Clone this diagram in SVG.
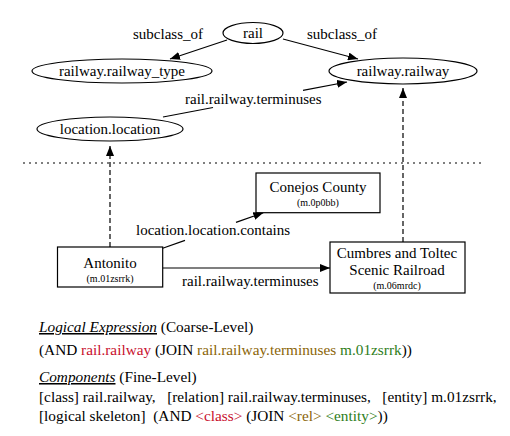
<svg xmlns="http://www.w3.org/2000/svg" width="510" height="436" viewBox="0 0 510 436">
<defs>
<style>
text{font-family:"Liberation Serif","Times New Roman",serif;fill:#000}
.n{font-size:15px;text-anchor:middle}
.s{font-size:10px;text-anchor:middle}
.e{font-size:15px}
.b{font-size:15.3px;white-space:pre}
.shape{fill:#fff;stroke:#000;stroke-width:1.2}
.edge{stroke:#000;stroke-width:1.2;fill:none}
.dash{stroke-dasharray:5,3}
.red{fill:#c8102e}
.olive{fill:#8b6508}
.green{fill:#2e7d20}
.ul{font-style:italic;text-decoration:underline}
</style>
<marker id="ah" markerWidth="10" markerHeight="8" refX="10" refY="4" orient="auto" markerUnits="userSpaceOnUse">
<path d="M0,0 L10,4 L0,8 z" fill="#000"/>
</marker>
</defs>
<rect width="510" height="436" fill="#fff"/>
<g id="connectors">
<line class="edge" x1="227" y1="40" x2="170" y2="59" marker-end="url(#ah)"/>
<line class="edge" x1="283" y1="39" x2="358" y2="59" marker-end="url(#ah)"/>
<line class="edge" x1="163" y1="117" x2="213" y2="107.5"/>
<line class="edge" x1="303" y1="90.4" x2="347" y2="82" marker-end="url(#ah)"/>
<line class="edge dash" x1="110" y1="247" x2="110" y2="146" marker-end="url(#ah)"/>
<line class="edge dash" x1="403" y1="242" x2="403" y2="88" marker-end="url(#ah)"/>
<line class="edge" x1="162.7" y1="248.3" x2="185" y2="240.4"/>
<line class="edge" x1="236" y1="222.4" x2="263.3" y2="212.7" marker-end="url(#ah)"/>
<line class="edge" x1="163" y1="268" x2="330" y2="268" marker-end="url(#ah)"/>
<text class="e" x="133" y="39">subclass_of</text>
<text class="e" x="307" y="39">subclass_of</text>
<text class="e" x="185" y="104">rail.railway.terminuses</text>
<text class="e" x="136" y="235">location.location.contains</text>
<text class="e" x="182" y="286">rail.railway.terminuses</text>
</g>
<line x1="23" y1="163" x2="484" y2="163" stroke="#000" stroke-width="1.2" stroke-dasharray="2,4"/>
<g id="rail">
<ellipse class="shape" cx="253" cy="33" rx="30" ry="10.5"/>
<text class="n" x="253" y="38">rail</text>
</g>
<g id="railway_type">
<ellipse class="shape" cx="122" cy="71" rx="90" ry="12"/>
<text class="n" x="122" y="76">railway.railway_type</text>
</g>
<g id="railway_railway">
<ellipse class="shape" cx="403" cy="71" rx="74" ry="13"/>
<text class="n" x="403" y="76">railway.railway</text>
</g>
<g id="location_location">
<ellipse class="shape" cx="110" cy="129" rx="73" ry="12"/>
<text class="n" x="110" y="134">location.location</text>
</g>
<g id="conejos">
<rect class="shape" x="256" y="173" width="124" height="39.7"/>
<text class="n" x="318" y="192">Conejos County</text>
<text class="s" x="318" y="206">(m.0p0bb)</text>
</g>
<g id="antonito">
<rect class="shape" x="57.5" y="247" width="105.2" height="40"/>
<text class="n" x="110" y="268">Antonito</text>
<text class="s" x="110" y="282">(m.01zsrrk)</text>
</g>
<g id="cumbres">
<rect class="shape" x="330" y="242" width="135" height="51"/>
<text class="n" x="397" y="258">Cumbres and Toltec</text>
<text class="n" x="397" y="275">Scenic Railroad</text>
<text class="s" x="397" y="289">(m.06mrdc)</text>
</g>
<g id="text">
<text class="b" x="39" y="332" xml:space="preserve"><tspan class="ul">Logical Expression</tspan> (Coarse-Level)</text>
<text class="b" x="39" y="355" xml:space="preserve">(AND <tspan class="red">rail.railway</tspan> (JOIN <tspan class="olive">rail.railway.terminuses</tspan> <tspan class="green">m.01zsrrk</tspan>))</text>
<text class="b" x="39" y="382" xml:space="preserve"><tspan class="ul">Components</tspan> (Fine-Level)</text>
<text class="b" x="39" y="402" xml:space="preserve">[class] rail.railway,   [relation] rail.railway.terminuses,   [entity] m.01zsrrk,</text>
<text class="b" x="39" y="421" xml:space="preserve">[logical skeleton]  (AND <tspan class="red">&lt;class&gt;</tspan> (JOIN <tspan class="olive">&lt;rel&gt;</tspan> <tspan class="green">&lt;entity&gt;</tspan>))</text>
</g>
</svg>
